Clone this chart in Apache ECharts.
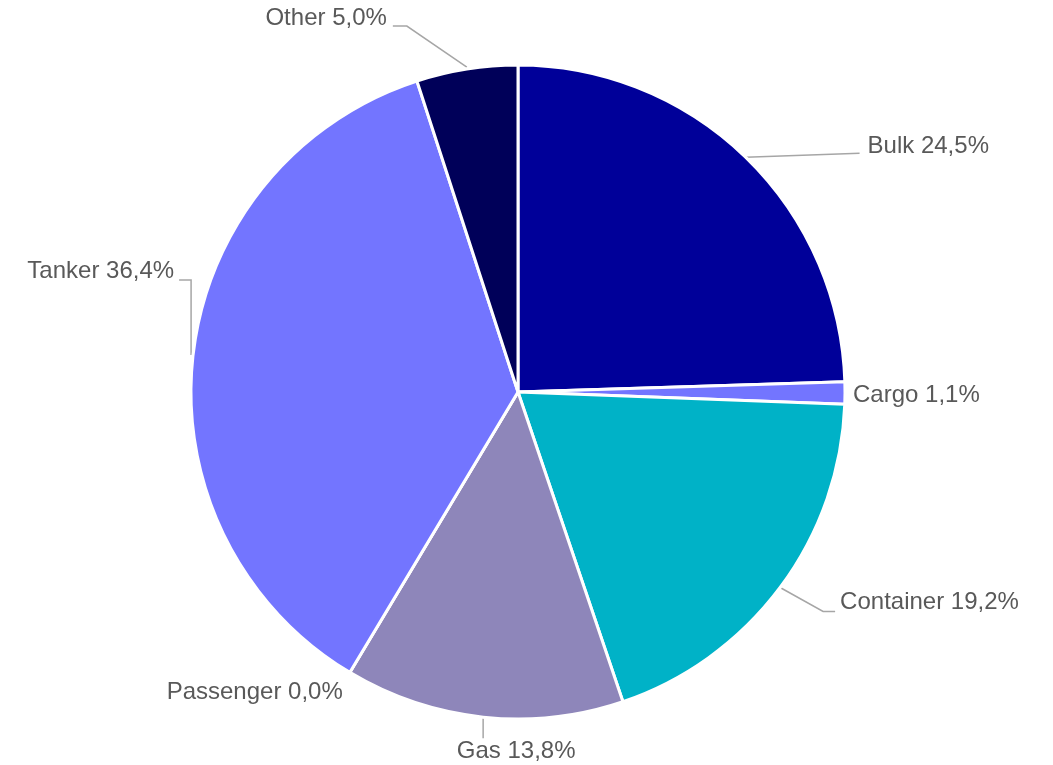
<!DOCTYPE html>
<html>
<head>
<meta charset="utf-8">
<script src="https://cdn.jsdelivr.net/npm/echarts@6/dist/echarts.min.js"></script>
<style>
html,body{margin:0;padding:0;background:#fff;}
#chart{width:1053px;height:765px;}
</style>
</head>
<body>
<div id="chart"></div>
<script>
const categories = ['Bulk', 'Cargo', 'Container', 'Gas', 'Passenger', 'Tanker', 'Other'];
const shares = [24.5, 1.1, 19.2, 13.8, 0.0, 36.4, 5.0];
const colors = ['#000099', '#7375FF', '#00B2C7', '#8E86BA', '#6E6EC8', '#7375FF', '#000059'];

// Label placement (Excel-like), offsets relative to the slice's mid-point on the rim.
// text: [dx, dy, align]; line: list of [dx, dy] elbow points (empty = no leader line)
const labelPlacement = [
  { text: [122, -11, 'left'],  line: [[0, 0], [114, -4], [114, -4]] },
  { text: [8, 2, 'left'],      line: [] },
  { text: [60, 15, 'left'],    line: [[0, 0], [43, 24], [55, 24]] },
  { text: [33, 34, 'center'],  line: [[0, 1], [0, 21], [0, 21]] },
  { text: [-7, 20, 'right'],   line: [] },
  { text: [-19, -84, 'right'], line: [[-2, 0], [-2, -75], [-14, -75]] },
  { text: [-80, -51, 'right'], line: [[0, -2], [-60, -43], [-74, -43]] }
];

const CX = 518, CY = 392, R = 327;
const total = shares.reduce((a, b) => a + b, 0);
const rimPoints = [];
let acc = 0;
shares.forEach(v => {
  const mid = acc + v / 2;
  const ang = (90 - mid / total * 360) * Math.PI / 180;
  rimPoints.push([CX + R * Math.cos(ang), CY - R * Math.sin(ang)]);
  acc += v;
});

const chart = echarts.init(document.getElementById('chart'));
chart.setOption({
  animation: false,
  backgroundColor: '#ffffff',
  series: [{
    type: 'pie',
    center: [CX, CY],
    radius: [0, R],
    startAngle: 90,
    clockwise: true,
    avoidLabelOverlap: false,
    minShowLabelAngle: -1,
    itemStyle: { borderColor: '#ffffff', borderWidth: 3 },
    label: {
      show: true,
      fontFamily: 'Liberation Sans, Arial, sans-serif',
      fontSize: 24,
      color: '#595959',
      formatter: p => p.name + ' ' + p.value.toFixed(1).replace('.', ',') + '%'
    },
    labelLine: {
      show: true,
      length: 20,
      length2: 12,
      lineStyle: { color: '#A6A6A6', width: 1.5 }
    },
    labelLayout: function (params) {
      const i = params.dataIndex;
      const pl = labelPlacement[i];
      const p = rimPoints[i];
      const out = {
        x: p[0] + pl.text[0],
        y: p[1] + pl.text[1],
        align: pl.text[2],
        verticalAlign: 'middle'
      };
      if (pl.line.length) {
        out.labelLinePoints = pl.line.map(d => [p[0] + d[0], p[1] + d[1]]);
      }
      return out;
    },
    data: categories.map((c, i) => ({
      name: c,
      value: shares[i],
      itemStyle: { color: colors[i] },
      labelLine: { show: labelPlacement[i].line.length > 0 }
    }))
  }]
});
</script>
</body>
</html>
